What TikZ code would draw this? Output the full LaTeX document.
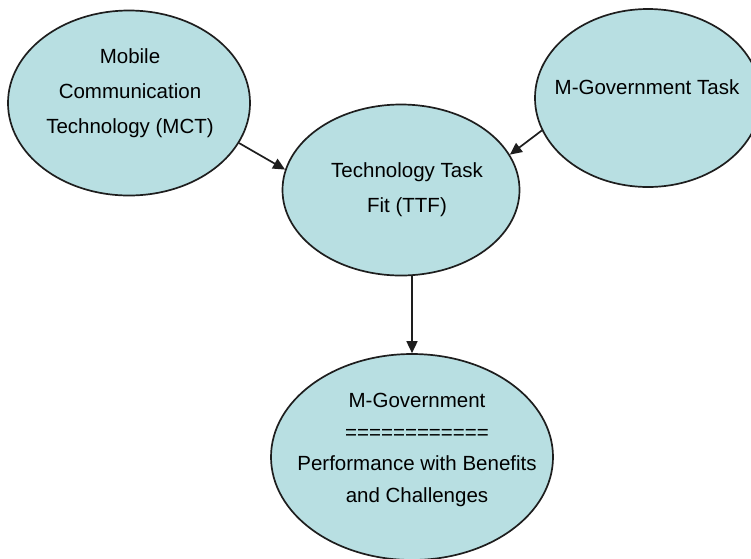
\documentclass[tikz,border=0pt]{standalone}
\usepackage{fontspec}
\setmainfont{Liberation Sans}
\usetikzlibrary{shapes.geometric,arrows.meta}
\definecolor{bubble}{RGB}{184,223,226}
\definecolor{rim}{RGB}{30,30,30}
\tikzset{
  bubble/.style={ellipse,draw=rim,fill=bubble,line width=1.7pt,inner sep=0pt,minimum width=#1},
  label/.style={align=center,font=\fontsize{20.5}{35}\selectfont,inner sep=0pt},
  link/.style={draw=rim,line width=1.7pt,-{Triangle[length=12pt,width=11pt]}}
}
\begin{document}
\begin{tikzpicture}[x=1pt,y=-1pt]
\clip (0,0) rectangle (751,558);
\useasboundingbox (0,0) rectangle (751,558);
\fill[white] (0,0) rectangle (751,558);
\node[bubble=242pt,minimum height=185pt] (mct) at (129,103) {};
\node[bubble=226pt,minimum height=178pt] (mgt) at (648,98) {};
\node[bubble=237pt,minimum height=171pt] (ttf) at (401,190) {};
\node[bubble=282pt,minimum height=206pt] (res) at (412,457) {};
\node[label] (mcttext) at (130,93) {Mobile\\Communication\\Technology (MCT)};
\node[label] (mgttext) at (647,87) {M-Government Task};
\node[label] (ttftext) at (407,190) {Technology Task\\Fit (TTF)};
\node[label,font=\fontsize{20.5}{31.5}\selectfont] (restext) at (417,450) {M-Government\\============\\Performance with Benefits\\and Challenges};
\draw[link] (mct.-20) -- (ttf.170);
\draw[link] (mgt.197) -- (ttf.18);
\draw[link] (res.north |- ttf.south) -- (res.north);
\end{tikzpicture}
\end{document}
